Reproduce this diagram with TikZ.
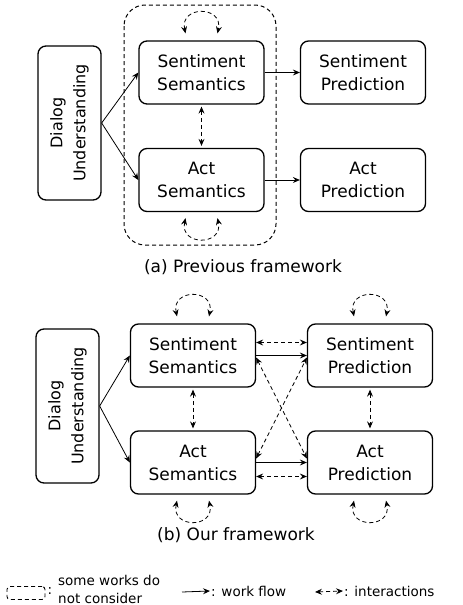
\documentclass[tikz,border=0pt]{standalone}
\usepackage{fontspec}
\setmainfont{DejaVu Sans}
\usetikzlibrary{arrows.meta, positioning}
\tikzset{
  blk/.style={draw, line width=1.3pt, rounded corners=8pt, minimum width=125pt,
              minimum height=63pt, align=center, inner sep=2pt,
              font=\fontsize{17}{23}\selectfont},
  dubox/.style={blk, minimum width=154pt, minimum height=63pt, rotate=90,
                font=\fontsize{16}{23}\selectfont},
  dsh/.style={dash pattern=on 4pt off 3pt},
  frm/.style={draw, dsh, line width=1pt, rounded corners=21pt},
  arr/.style={-{Stealth[length=7pt,width=6pt,inset=2.5pt]}, line width=0.8pt},
  iarr/.style={{Stealth[length=7pt,width=6pt,inset=2.5pt]}-{Stealth[length=7pt,width=6pt,inset=2.5pt]},
               dsh, line width=0.8pt},
  captxt/.style={font=\fontsize{17}{20}\selectfont},
  lgd/.style={font=\fontsize{13.5}{18}\selectfont, align=left, inner sep=1pt},
}

\begin{document}
\begin{tikzpicture}[x=1pt, y=-1pt]
  \useasboundingbox (0,0) rectangle (463,605);

  % (a) previous framework
  \draw[frm] (124,5) rectangle (276,245);
  \node[dubox] (du_a) at (69.5,123) {Dialog\\Understanding};
  \node[blk] (ss_a) at (201.5,72.5) {Sentiment\\Semantics};
  \node[blk] (sp_a) at (363,72.5) {Sentiment\\Prediction};
  \node[blk] (as_a) at (201.5,180) {Act\\Semantics};
  \node[blk] (ap_a) at (363,180) {Act\\Prediction};
  \node[captxt] (cap_a) at (243,267) {(a) Previous framework};

  \draw[arr] (du_a.south) -- (ss_a.west);
  \draw[arr] (du_a.south) -- (as_a.west);
  \draw[arr] (ss_a) -- (sp_a);
  \draw[arr] (as_a) -- (ap_a);
  \draw[iarr] ([yshift=-2pt]ss_a.south) -- ([yshift=2pt]as_a.north);

  % (b) our framework
  \node[dubox] (du_b) at (67.5,406) {Dialog\\Understanding};
  \node[blk] (ss_b) at (193,355.5) {Sentiment\\Semantics};
  \node[blk] (sp_b) at (370,355.5) {Sentiment\\Prediction};
  \node[blk] (as_b) at (193,462.5) {Act\\Semantics};
  \node[blk] (ap_b) at (370,462.5) {Act\\Prediction};
  \node[captxt] (cap_b) at (236,535) {(b) Our framework};

  \draw[arr] (du_b.south) -- (ss_b.west);
  \draw[arr] (du_b.south) -- (as_b.west);
  \draw[arr] (ss_b) -- (sp_b);
  \draw[arr] (as_b) -- (ap_b);
  \draw[iarr] ([yshift=13pt]ss_b.east) -- ([yshift=13pt]sp_b.west);
  \draw[iarr] ([yshift=-14pt]as_b.east) -- ([yshift=-14pt]ap_b.west);
  \draw[iarr] ([yshift=-2pt]ss_b.east) -- ([yshift=4pt]ap_b.west);
  \draw[iarr] ([yshift=4pt]as_b.east) -- ([yshift=-2pt]sp_b.west);
  \draw[iarr] ([yshift=-2pt]ss_b.south) -- ([yshift=2pt]as_b.north);
  \draw[iarr] ([yshift=-2pt]sp_b.south) -- ([yshift=2pt]ap_b.north);

  % self interactions
  \foreach \n in {ss_a, ss_b, sp_b}{
    \draw[iarr] ([xshift=-16pt,yshift=7pt]\n.north) .. controls +(-6,-28) and +(6,-28)
      .. ([xshift=16pt,yshift=7pt]\n.north);
  }
  \foreach \n in {as_a, as_b, ap_b}{
    \draw[iarr] ([xshift=-16pt,yshift=-6pt]\n.south) .. controls +(-6,28) and +(6,28)
      .. ([xshift=16pt,yshift=-6pt]\n.south);
  }

  % legend
  \node[draw, dsh, line width=0.9pt, rounded corners=3pt, minimum width=38pt,
        minimum height=13pt] (lg_box) at (26,593) {};
  \node[lgd] (lg_col) at (50,591) {:};
  \node[lgd, anchor=west] (lg_txt) at (57,589) {some works do\\not consider};
  \coordinate (wf_s) at (182,592);
  \node[lgd, anchor=west] (wf_txt) at (210,591) {: work flow};
  \draw[arr] (wf_s) -- (wf_txt.west);
  \coordinate (ia_s) at (315,592);
  \node[lgd, anchor=west] (ia_txt) at (343,591) {: interactions};
  \draw[iarr] (ia_s) -- (ia_txt.west);
\end{tikzpicture}
\end{document}
